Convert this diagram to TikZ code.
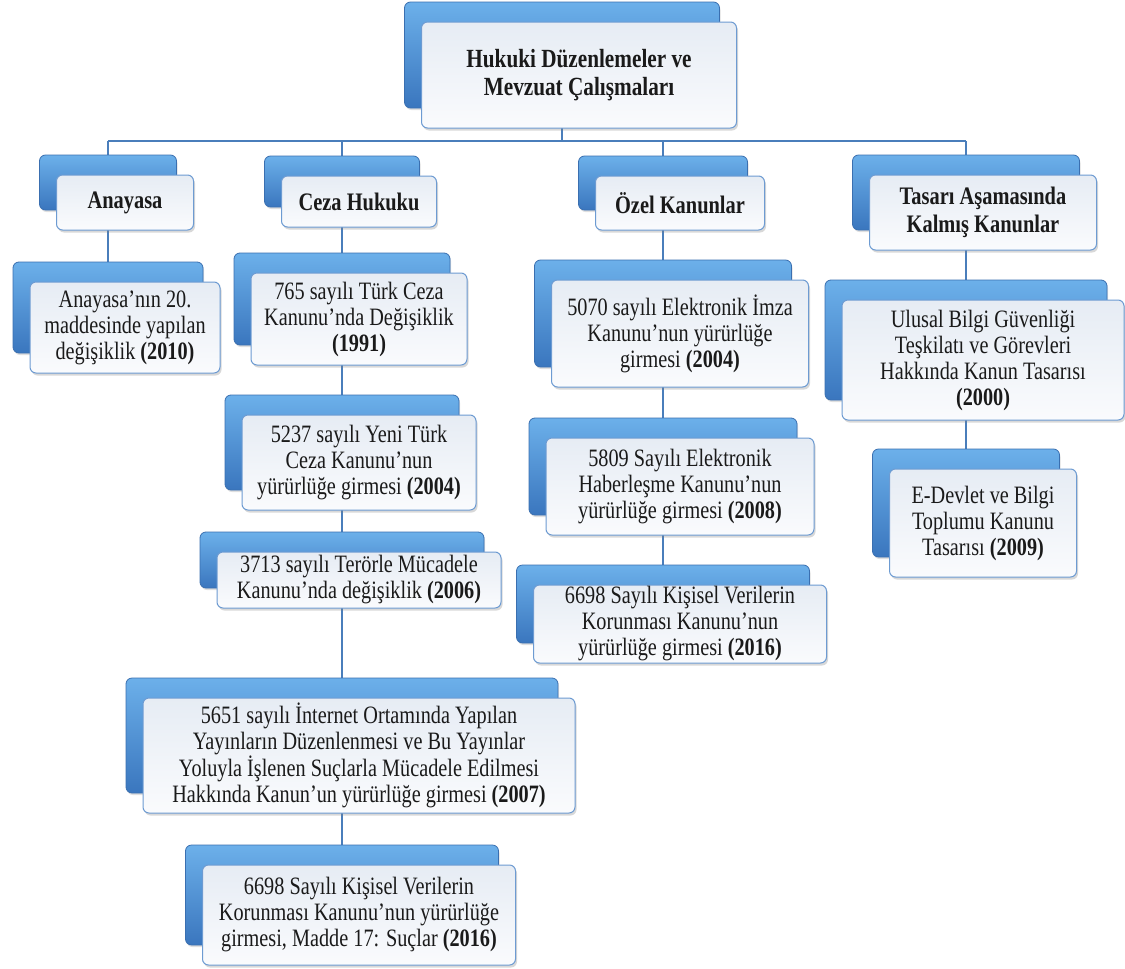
\documentclass[tikz,border=0pt]{standalone}
\usepackage{fontspec}
\setmainfont{Liberation Serif}[FakeStretch=0.81]
\usetikzlibrary{shadows,backgrounds}
\definecolor{conn}{HTML}{4A7EBB}
\definecolor{btop}{HTML}{6CB0EA}
\definecolor{bbot}{HTML}{3A76BE}
\definecolor{bedge}{HTML}{3A6FB0}
\definecolor{wtop}{HTML}{E6ECF4}
\definecolor{wbot}{HTML}{FAFBFD}
\definecolor{wedge}{HTML}{6D9BD2}
\definecolor{txt}{HTML}{1A1A1A}
\tikzset{
  wbox/.style={draw=wedge, line width=1pt, rounded corners=6pt, top color=wtop, bottom color=wbot,
    inner sep=0pt, align=center, text=txt,
    drop shadow={opacity=0.3, shadow xshift=1.5pt, shadow yshift=-2.5pt}},
  bbox/.style={draw=bedge, line width=0.8pt, rounded corners=6pt, top color=btop, bottom color=bbot,
    inner sep=0pt, drop shadow={opacity=0.25, shadow xshift=1pt, shadow yshift=-2pt}},
  link/.style={draw=conn, line width=2pt},
  head/.style={font=\bfseries\fontsize{25.2}{28}\selectfont},
  roothead/.style={font=\bfseries\fontsize{26.2}{28.5}\selectfont},
  item/.style={font=\fontsize{25}{26}\selectfont},
}
% name, cx, cy, w, h, style, text
\newcommand\mkbox[7]{%
  \node[bbox, minimum width=#4pt, minimum height=#5pt] (#1b) at (#2-17,#3-20) {};
  \node[wbox, #6, minimum width=#4pt, minimum height=#5pt] (#1) at (#2,#3) {#7};
}
\begin{document}
\begin{tikzpicture}[x=1pt,y=-1pt]
\useasboundingbox (0,0) rectangle (1125,969);
\mkbox{root}{579}{75}{315}{106}{roothead}{Hukuki Düzenlemeler ve\\Mevzuat Çalışmaları}
\mkbox{anayasa}{125}{202.5}{137}{55}{head}{Anayasa}
\mkbox{ceza}{359}{201.5}{155}{51}{head}{Ceza Hukuku}
\mkbox{ozel}{680}{203}{169}{54}{head}{Özel Kanunlar}
\mkbox{tasari}{983}{212.5}{227}{75}{head}{Tasarı Aşamasında\\Kalmış Kanunlar}
\mkbox{aone}{125}{327.5}{190}{91}{item}{Anayasa’nın 20.\\maddesinde yapılan\\değişiklik \textbf{(2010)}}
\mkbox{cone}{359}{319}{216}{92}{item}{765 sayılı Türk Ceza\\Kanunu’nda Değişiklik\\\textbf{(1991)}}
\mkbox{ctwo}{359}{462.5}{234}{95}{item}{5237 sayılı Yeni Türk\\Ceza Kanunu’nun\\yürürlüğe girmesi \textbf{(2004)}}
\mkbox{cthree}{359}{580}{284}{56}{item}{3713 sayılı Terörle Mücadele\\Kanunu’nda değişiklik \textbf{(2006)}}
\mkbox{cfour}{359}{755.5}{432}{115}{item}{5651 sayılı İnternet Ortamında Yapılan\\Yayınların Düzenlenmesi ve Bu Yayınlar\\Yoluyla İşlenen Suçlarla Mücadele Edilmesi\\Hakkında Kanun’un yürürlüğe girmesi \textbf{(2007)}}
\mkbox{cfive}{359}{915}{313}{100}{item}{6698 Sayılı Kişisel Verilerin\\Korunması Kanunu’nun yürürlüğe\\girmesi, Madde 17: Suçlar \textbf{(2016)}}
\mkbox{oone}{680}{333.5}{257}{107}{item}{5070 sayılı Elektronik İmza\\Kanunu’nun yürürlüğe\\girmesi \textbf{(2004)}}
\mkbox{otwo}{680}{486.5}{268}{97}{item}{5809 Sayılı Elektronik\\Haberleşme Kanunu’nun\\yürürlüğe girmesi \textbf{(2008)}}
\mkbox{othree}{680}{624}{293}{78}{item}{6698 Sayılı Kişisel Verilerin\\Korunması Kanunu’nun\\yürürlüğe girmesi \textbf{(2016)}}
\mkbox{tone}{983}{360}{282}{120}{item}{Ulusal Bilgi Güvenliği\\Teşkilatı ve Görevleri\\Hakkında Kanun Tasarısı\\\textbf{(2000)}}
\mkbox{ttwo}{983}{523}{187}{108}{item}{E-Devlet ve Bilgi\\Toplumu Kanunu\\Tasarısı \textbf{(2009)}}
\begin{pgfonlayer}{background}
  \fill[white] (0,0) rectangle (1125,969);
  \coordinate (bus) at (0,141);
  \draw[link] (rootb.south) -- (rootb.south |- bus);
  \draw[link, line width=2.5pt] (anayasab.north |- bus) -- (tasarib.north |- bus);
  \draw[link] (anayasab.north |- bus) -- (anayasab.north);
  \draw[link] (cezab.north |- bus) -- (cezab.north);
  \draw[link] (ozelb.north |- bus) -- (ozelb.north);
  \draw[link] (tasarib.north |- bus) -- (tasarib.north);
  \draw[link] (anayasab.south) -- (aoneb.north);
  \draw[link] (cezab.south) -- (coneb.north);
  \draw[link] (coneb.south) -- (ctwob.north);
  \draw[link] (ctwob.south) -- (cthreeb.north);
  \draw[link] (cthreeb.south) -- (cfourb.north);
  \draw[link] (cfourb.south) -- (cfiveb.north);
  \draw[link] (ozelb.south) -- (ooneb.north);
  \draw[link] (ooneb.south) -- (otwob.north);
  \draw[link] (otwob.south) -- (othreeb.north);
  \draw[link] (tasarib.south) -- (toneb.north);
  \draw[link] (toneb.south) -- (ttwob.north);
\end{pgfonlayer}
\end{tikzpicture}
\end{document}
